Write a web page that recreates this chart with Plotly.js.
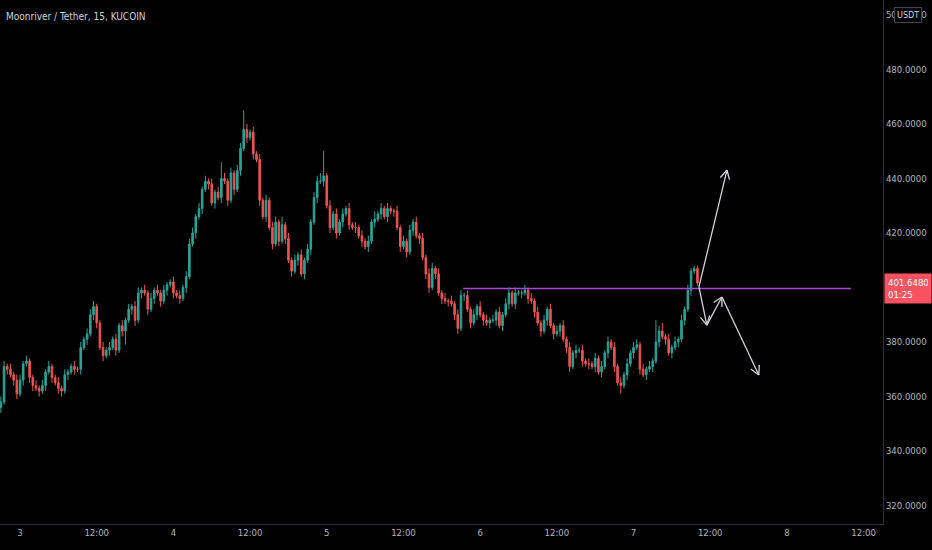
<!DOCTYPE html>
<html>
<head>
<meta charset="utf-8">
<script src="https://cdn.plot.ly/plotly-3.0.1.min.js"></script>
<style>
html,body{margin:0;padding:0;background:#000;}
#chart{width:932px;height:550px;}
</style>
</head>
<body>
<div id="chart"></div>
<script>
// ---- data (30-minute candles) ----
const startTime = Date.UTC(2021, 8, 2, 21, 0);
const intervalMinutes = 30;
const firstOpen = 356;
const closes = [
358,371,370,368,366,361,366,372,373,367,
364,363,362,364,369,371,367,365,363,362,
368,369,371,370,370,378,381,383,390,393,
387,378,375,377,378,381,377,386,384,388,
392,393,388,398,399,398,392,396,399,398,
395,399,401,402,398,397,396,400,404,416,
420,426,429,436,439,438,431,435,433,440,
439,432,442,436,443,451,458,455,457,449,
447,432,426,432,422,416,424,417,423,418,
410,406,410,412,405,410,414,424,433,439,
439,441,430,422,427,420,424,427,429,423,
422,422,419,417,415,417,424,425,427,429,
426,429,428,428,422,415,417,413,421,424,
419,418,411,405,400,407,405,398,396,395,
395,394,390,385,397,397,392,387,390,393,
390,388,387,388,388,391,386,390,394,398,
394,398,398,398,399,396,395,391,387,384,
388,392,386,383,384,386,381,378,371,376,
377,377,373,372,372,371,374,369,371,376,
380,378,371,365,364,368,372,376,378,379,
370,368,370,371,373,380,384,382,381,376,
378,380,381,388,392,399,406,407,401.648
];
const wickUp = [
2,2,1,2,1,2,2,1,2,1,
1,2,1,2,1,2,1,1,2,1,
2,1,1,2,1,2,1,2,2,2,
1,1,2,1,2,1,2,1,2,1,
2,1,2,2,1,2,1,2,1,2,
1,2,1,1,2,1,2,1,2,2,
2,1,2,1,2,1,2,1,2,6,
2,1,2,1,2,2,7,2,1,2,
1,2,1,2,1,2,2,1,3,1,
2,1,2,1,2,1,2,1,2,2,
3,9,1,2,1,2,1,2,1,2,
1,2,1,2,1,2,1,3,1,2,
1,2,1,1,2,1,2,1,2,1,
2,1,2,1,2,2,1,2,1,2,
1,2,1,2,2,1,2,1,2,1,
2,1,2,1,2,1,2,1,2,2,
1,2,1,1,2,1,2,1,2,1,
2,1,2,1,2,1,2,1,2,1,
2,1,2,1,2,1,2,1,2,1,
2,1,2,1,2,1,2,1,2,2,
1,2,1,2,1,8,2,3,1,2,
1,2,1,2,1,2,1,1,1
];
const wickDn = [
2,1,2,1,2,2,1,2,1,2,
2,1,2,1,2,1,2,1,2,2,
1,2,1,2,1,2,1,2,1,2,
2,1,2,1,2,1,2,1,2,5,
1,2,2,1,2,1,2,1,2,1,
2,1,2,1,2,1,2,1,2,1,
1,2,1,2,1,2,1,2,1,2,
1,2,1,2,1,2,1,2,1,2,
1,2,1,2,1,2,1,2,1,2,
1,2,1,2,1,2,1,2,1,2,
1,2,1,2,1,2,1,2,1,2,
1,2,1,2,1,2,1,2,1,2,
1,2,1,2,1,2,1,2,1,2,
1,2,1,2,2,1,2,1,2,1,
2,1,2,2,1,2,1,2,1,2,
1,2,1,2,1,2,1,2,1,2,
1,2,1,2,1,2,1,2,1,2,
1,2,1,2,1,2,1,2,2,1,
2,1,2,1,2,1,2,1,2,1,
2,1,2,1,3,1,2,1,2,1,
2,1,2,1,2,1,2,1,2,1,
2,1,2,1,2,1,2,1,1
];
const yTickVals = [320,340,360,380,420,440,460,480,500];
const xTickVals = ['2021-09-03 00:00','2021-09-03 12:00','2021-09-04 00:00','2021-09-04 12:00','2021-09-05 00:00','2021-09-05 12:00','2021-09-06 00:00','2021-09-06 12:00','2021-09-07 00:00','2021-09-07 12:00','2021-09-08 00:00','2021-09-08 12:00'];
const xTickText = ['3','12:00','4','12:00','5','12:00','6','12:00','7','12:00','8','12:00'];
const xRange = ['2021-09-02 20:52', '2021-09-08 15:02'];
const yRange = [313.2, 505.5];
// drawings
const levelPrice = 399.6;
const levelStart = '2021-09-05 21:19';
const levelEnd = '2021-09-08 10:00';
const arrowTailTimes  = ['2021-09-07 10:14','2021-09-07 10:14','2021-09-07 11:28','2021-09-07 13:50'];
const arrowTailPrices = [400.2, 400.2, 386.2, 396.5];
const arrowHeadTimes  = ['2021-09-07 14:37','2021-09-07 11:28','2021-09-07 13:50','2021-09-07 19:36'];
const arrowHeadPrices = [443.1, 386.2, 396.5, 367.9];
const countdown = '01:25';

// ---- build ----
const PLOT_W = 932 - 49, PLOT_H = 550 - 26;
function fmt(ms){
  const d = new Date(ms);
  const p = n => String(n).padStart(2,'0');
  return d.getUTCFullYear()+'-'+p(d.getUTCMonth()+1)+'-'+p(d.getUTCDate())+' '+p(d.getUTCHours())+':'+p(d.getUTCMinutes());
}
function fmtFine(ms){
  return new Date(ms).toISOString().replace('T',' ').replace('Z','');
}
const toMs = s => Date.parse(s.replace(' ', 'T') + ':00Z');
const times = closes.map((_, i) => fmt(startTime + i*intervalMinutes*60000));
const opens = closes.map((c, i) => i === 0 ? firstOpen : closes[i-1]);
const highs = closes.map((c, i) => Math.max(opens[i], c) + wickUp[i]);
const lows  = closes.map((c, i) => Math.min(opens[i], c) - wickDn[i]);
const lastClose = closes[closes.length-1];

const FONT = '"Liberation Sans Narrow", "DejaVu Sans Condensed", sans-serif';
const UP = '#26a69a', DN = '#ef5350';
const DRAW = '#d1d4dc';

const trace = {
  type: 'candlestick',
  x: times, open: opens, high: highs, low: lows, close: closes,
  increasing: {line: {color: UP, width: 1}, fillcolor: UP},
  decreasing: {line: {color: DN, width: 1}, fillcolor: DN},
  whiskerwidth: 0,
  hoverinfo: 'skip'
};

// arrows: shafts + thin V heads (head legs built in screen space)
const pxX = PLOT_W / (toMs(xRange[1]) - toMs(xRange[0]));
const pxY = PLOT_H / (yRange[1] - yRange[0]);
const shapes = [{
  type: 'line', xref: 'x', yref: 'y', x0: levelStart, x1: levelEnd, y0: levelPrice, y1: levelPrice,
  line: {color: '#a64ad6', width: 1.5}
}];
const LEG = 10, ANG = 28 * Math.PI / 180;
arrowHeadTimes.forEach((ht, i) => {
  const tt = arrowTailTimes[i];
  shapes.push({type: 'line', xref: 'x', yref: 'y', x0: tt, y0: arrowTailPrices[i], x1: ht, y1: arrowHeadPrices[i],
               line: {color: DRAW, width: 1.3}});
  const hMs = toMs(ht), tMs = toMs(tt);
  const dx = (hMs - tMs) * pxX, dy = (arrowHeadPrices[i] - arrowTailPrices[i]) * pxY;
  const len = Math.hypot(dx, dy);
  const bx = -dx / len, by = -dy / len;
  [ANG, -ANG].forEach(a => {
    const rx = bx * Math.cos(a) - by * Math.sin(a);
    const ry = bx * Math.sin(a) + by * Math.cos(a);
    shapes.push({type: 'line', xref: 'x', yref: 'y',
                 x0: ht, y0: arrowHeadPrices[i],
                 x1: fmtFine(hMs + LEG * rx / pxX),
                 y1: arrowHeadPrices[i] + LEG * ry / pxY,
                 line: {color: DRAW, width: 1.3}});
  });
});

const annotations = [];
annotations.push({
  xref: 'paper', yref: 'y', x: 884/PLOT_W, y: lastClose, xanchor: 'left', yanchor: 'middle',
  yshift: -6, text: lastClose.toFixed(4) + '<br>' + countdown, align: 'left', showarrow: false,
  bgcolor: '#f7525f', borderpad: 3, width: 40,
  font: {family: FONT, size: 9.5, color: '#ffffff'}
});
annotations.push({
  xref: 'paper', yref: 'y', x: 908/PLOT_W, y: 500, xanchor: 'center', yanchor: 'middle',
  text: 'USDT', showarrow: false, bgcolor: '#000000', bordercolor: '#434651', borderwidth: 1,
  borderpad: 2, font: {family: FONT, size: 9, color: '#d1d4dc'}
});

const layout = {
  width: 932, height: 550,
  margin: {l: 0, r: 49, t: 0, b: 26},
  paper_bgcolor: '#000000', plot_bgcolor: '#000000',
  showlegend: false,
  title: {text: 'Moonriver / Tether, 15, KUCOIN', x: 6/932, xanchor: 'left', y: 1 - 16/550, yanchor: 'middle',
          font: {family: FONT, size: 10, color: '#d1d4dc'}},
  xaxis: {
    type: 'date', range: xRange,
    rangeslider: {visible: false},
    tickmode: 'array', tickvals: xTickVals, ticktext: xTickText,
    showgrid: false, zeroline: false, ticks: '',
    showline: true, linecolor: '#2a2e39', linewidth: 1,
    tickfont: {family: FONT, size: 9.5, color: '#b2b5be'}
  },
  yaxis: {
    side: 'right', range: yRange,
    tickmode: 'array', tickvals: yTickVals, tickformat: '.4f',
    showgrid: false, zeroline: false, ticks: '',
    showline: true, linecolor: '#2a2e39', linewidth: 1,
    tickfont: {family: FONT, size: 9.5, color: '#b2b5be'}
  },
  shapes: shapes,
  annotations: annotations
};

Plotly.newPlot('chart', [trace], layout, {staticPlot: true, displayModeBar: false});
</script>
</body>
</html>
